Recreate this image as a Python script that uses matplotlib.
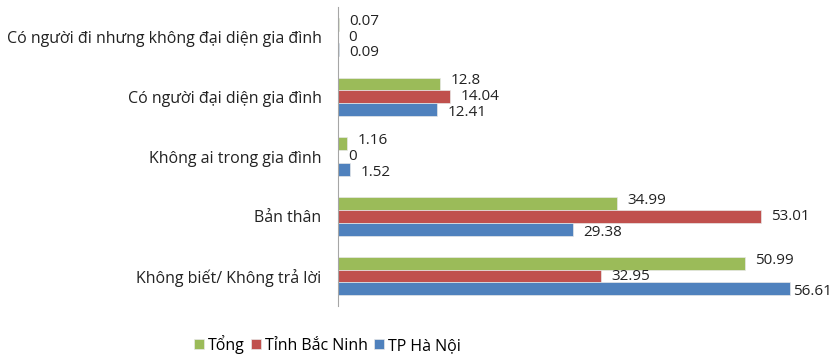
import numpy as np
import matplotlib.pyplot as plt

plt.rcParams['font.family'] = ['Open Sans', 'DejaVu Sans']

categories = ['Có người đi nhưng không đại diện gia đình',
              'Có người đại diện gia đình',
              'Không ai trong gia đình',
              'Bản thân',
              'Không biết/ Không trả lời']
tong = [0.07, 12.8, 1.16, 34.99, 50.99]
bac_ninh = [0, 14.04, 0, 53.01, 32.95]
ha_noi = [0.09, 12.41, 1.52, 29.38, 56.61]

series = [('Tổng', tong, '#9BBB59'),
          ('Tỉnh Bắc Ninh', bac_ninh, '#C0504D'),
          ('TP Hà Nội', ha_noi, '#4F81BD')]

fig = plt.figure(figsize=(8.31, 3.57), dpi=100)
ax = fig.add_axes([0.407, 0.143, 0.576, 0.837])

y = np.arange(len(categories))
h = 0.215
for i, (name, vals, col) in enumerate(series):
    pos = y + (i - 1) * h
    ax.barh(pos, vals, height=h, color=col, edgecolor='#e8e8e8',
            linewidth=0.5, label=name)
    for p, v in zip(pos, vals):
        # keep the longest label inside the figure
        lx = min(v + 1.3, 57.0)
        ax.text(lx, p + (i - 1) * 0.05, f'{v:g}', va='center', ha='left',
                fontsize=11, color='#222222')

ax.set_xlim(0, 60)
ax.set_ylim(len(categories) - 0.5, -0.5)
ax.set_yticks(y)
ax.set_yticklabels(categories, fontsize=11.5, color='#222222')
ax.tick_params(axis='y', length=0, pad=12)
ax.set_xticks([])
for s in ['top', 'right', 'bottom']:
    ax.spines[s].set_visible(False)
ax.spines['left'].set_color('#a6a6a6')

fig.legend(loc='lower center', bbox_to_anchor=(0.394, -0.032), ncol=3,
           frameon=False, fontsize=11.5, handlelength=0.6,
           handleheight=0.6, handletextpad=0.25, columnspacing=0.4)

fig.savefig('out.png', dpi=100)
